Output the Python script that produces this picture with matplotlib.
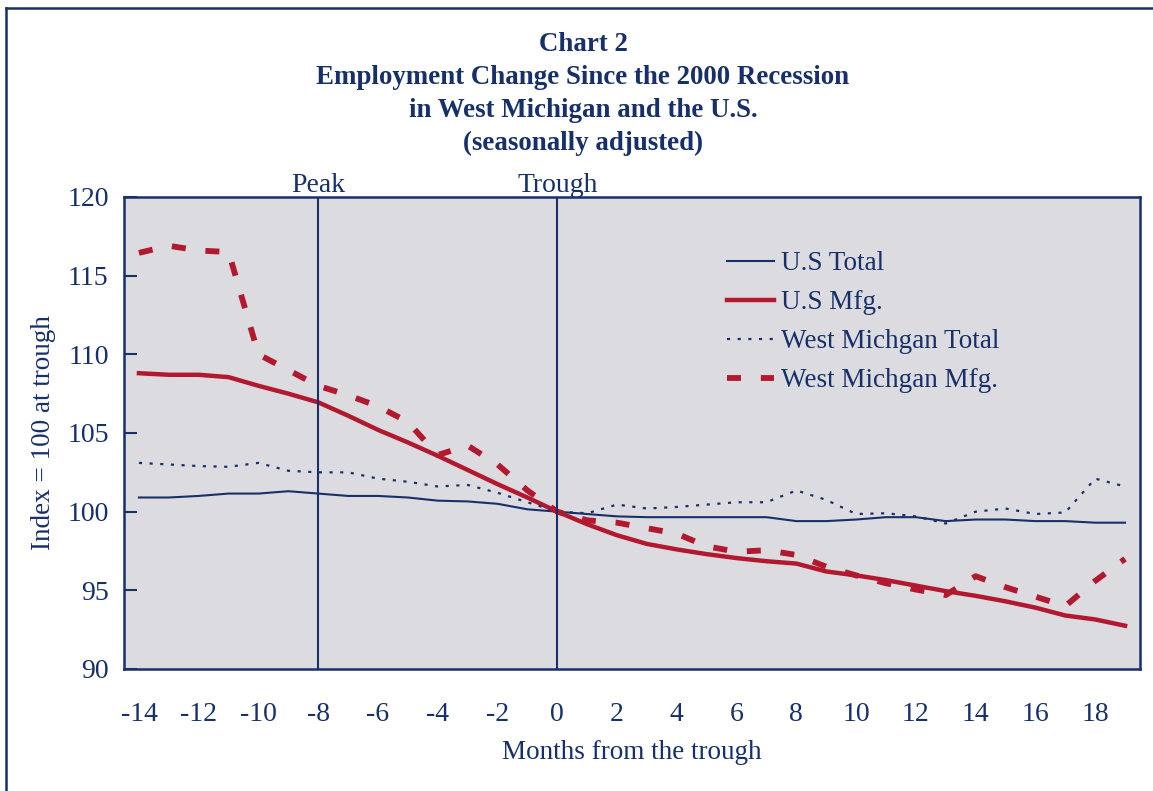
import matplotlib.pyplot as plt
from matplotlib.lines import Line2D

# months from the trough
months = list(range(-14, 20))

us_total = [100.9, 100.9, 101.0, 101.15, 101.15, 101.3, 101.15, 101.0, 101.0, 100.9,
            100.7, 100.65, 100.5, 100.15, 100.0,
            99.85, 99.7, 99.65, 99.65, 99.65, 99.65, 99.65, 99.4, 99.4, 99.5,
            99.65, 99.65, 99.4, 99.5, 99.5, 99.4, 99.4, 99.3, 99.3]

us_mfg = [108.8, 108.7, 108.7, 108.55, 108.0, 107.5, 106.95, 106.1, 105.2, 104.4,
          103.55, 102.65, 101.75, 100.9, 100.0,
          99.2, 98.5, 97.95, 97.6, 97.3, 97.05, 96.85, 96.7, 96.2, 95.95,
          95.65, 95.3, 94.95, 94.65, 94.3, 93.9, 93.4, 93.15, 92.75]

wm_total = [103.1, 103.0, 102.9, 102.85, 103.1, 102.6, 102.5, 102.5, 102.1, 101.9,
            101.6, 101.7, 101.2, 100.6, 100.0,
            99.9, 100.45, 100.2, 100.3, 100.45, 100.6, 100.6, 101.35, 100.75, 99.85,
            99.9, 99.7, 99.25, 100.0, 100.2, 99.85, 99.95, 102.1, 101.6]

wm_mfg = [116.45, 116.9, 116.6, 116.5, 110.0, 109.0, 108.0, 107.4, 106.7, 105.7,
          103.6, 104.2, 103.0, 101.35, 100.0,
          99.45, 99.3, 98.95, 98.6, 97.8, 97.45, 97.55, 97.25, 96.5, 95.95,
          95.45, 95.05, 94.7, 95.9, 95.2, 94.6, 94.0, 95.6, 97.0]

navy = '#17306a'
red = '#b3192e'
bg = '#dcdbe0'

plt.rcParams['font.family'] = ['Liberation Serif', 'DejaVu Serif']
plt.rcParams['axes.unicode_minus'] = False

fig = plt.figure(figsize=(11.53, 7.91), dpi=100)
ax = fig.add_axes([124 / 1153, 1 - 669 / 791, (1140 - 124) / 1153, (669 - 197) / 791])
ax.set_facecolor(bg)

ax.plot(months, us_total, color=navy, linewidth=1.5, label='U.S Total')
ax.plot(months, us_mfg, color=red, linewidth=3.2, label='U.S Mfg.')
ax.plot(months, wm_total, color=navy, linewidth=1.6, linestyle=(0, (1.4, 3.4)),
        label='West Michgan Total')
ax.plot(months, wm_mfg, color=red, linewidth=4.2, linestyle=(0, (2.4, 3.4)),
        label='West Michgan Mfg.')

# peak and trough markers
ax.axvline(-8, color=navy, linewidth=1.5)
ax.axvline(0, color=navy, linewidth=1.5)
ax.text(-8, 119.93, 'Peak', ha='center', va='bottom', fontsize=20, color=navy)
ax.text(0, 119.93, 'Trough', ha='center', va='bottom', fontsize=20, color=navy)

ax.set_xlim(-14.5, 19.5)
ax.set_ylim(90, 120)
ax.set_xticks(range(-14, 19, 2))
ax.set_yticks(range(90, 121, 5))
ax.tick_params(axis='y', direction='in', length=9, width=1.5, color=navy,
               labelsize=20, labelcolor=navy, pad=11)
ax.tick_params(axis='x', length=0, labelsize=20, labelcolor=navy, pad=24)
for s in ax.spines.values():
    s.set_color(navy)
    s.set_linewidth(1.8)

ax.set_xlabel('Months from the trough', fontsize=19.5, color=navy, labelpad=9)
ax.set_ylabel('Index = 100 at trough', fontsize=19.5, color=navy, labelpad=8)

leg = ax.legend(loc='upper left', bbox_to_anchor=(727 / 1153, 1 - 251 / 791),
                bbox_transform=fig.transFigure, frameon=False, fontsize=19.5,
                handlelength=1.75, handletextpad=0.25, labelspacing=0.52,
                borderpad=0, borderaxespad=0)
for t in leg.get_texts():
    t.set_color(navy)

title = ('Chart 2\nEmployment Change Since the 2000 Recession\n'
         'in West Michigan and the U.S.\n(seasonally adjusted)')
fig.text(583 / 1153, 1 - 32 / 791, title, ha='center', va='top', fontsize=19.4,
         fontweight='bold', color=navy, linespacing=1.42)

# outer frame (left and top edges)
fig.add_artist(Line2D([6 / 1153, 6 / 1153], [0, 1 - 8 / 791], transform=fig.transFigure,
                      color=navy, linewidth=1.8))
fig.add_artist(Line2D([6 / 1153, 1], [1 - 8 / 791, 1 - 8 / 791], transform=fig.transFigure,
                      color=navy, linewidth=1.8))

fig.savefig('out.png', dpi=100)
